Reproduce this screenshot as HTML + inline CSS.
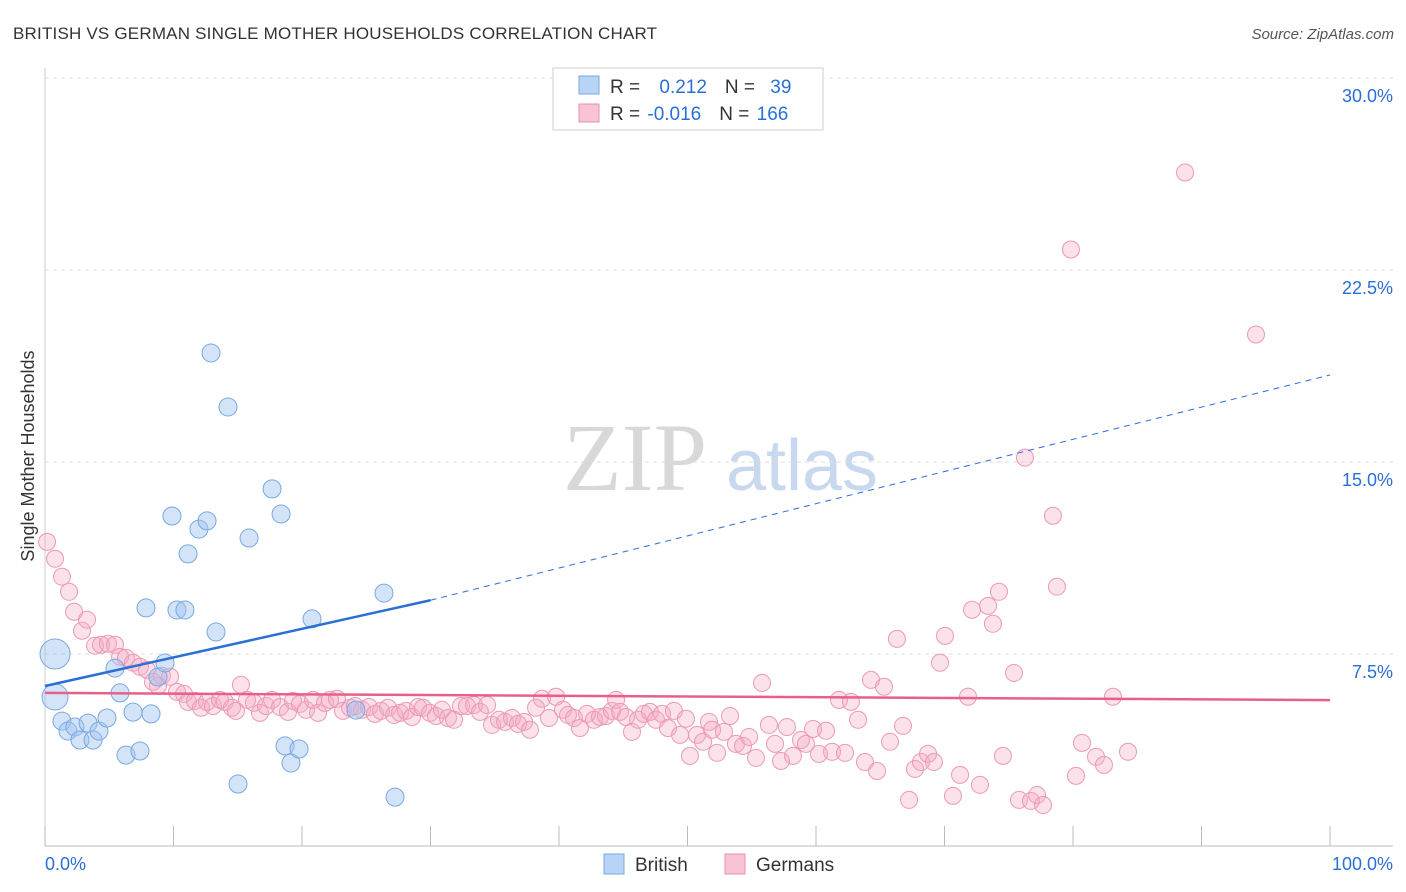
<!DOCTYPE html>
<html><head><meta charset="utf-8"><style>
body{margin:0;background:#fff;font-family:"Liberation Sans",sans-serif;}
svg{display:block}
</style></head><body>
<svg id="chart" width="1406" height="892" xmlns="http://www.w3.org/2000/svg" font-family="Liberation Sans, sans-serif">
<text x="13" y="39" font-size="17" fill="#333" letter-spacing="0.2">BRITISH VS GERMAN SINGLE MOTHER HOUSEHOLDS CORRELATION CHART</text>
<text x="1394" y="39" font-size="15" fill="#555" text-anchor="end" font-style="italic">Source: ZipAtlas.com</text>
<g>
<text x="635" y="490" font-size="96" fill="#d8d8d8" text-anchor="middle" font-family="Liberation Serif, serif">ZIP</text>
<text x="802" y="490" font-size="72" fill="#c8d8ee" text-anchor="middle">atlas</text>
</g>
<g id="grid"></g>
<g id="axes"></g>
<text transform="translate(34,456) rotate(-90)" font-size="18" fill="#333" text-anchor="middle">Single Mother Households</text>
<g id="lines"></g>
<g id="pts"></g>
<g>
<rect x="553" y="68" width="270" height="62" fill="#fff" stroke="#ccc"/>
<rect x="579" y="76" width="20" height="18" fill="#b8d4f4" stroke="#7aa8e0"/>
<rect x="579" y="104" width="20" height="18" fill="#f8c4d4" stroke="#e890aa"/>
<text x="610" y="93" font-size="19" fill="#333">R = <tspan fill="#2a6fd6" dx="14">0.212</tspan><tspan dx="18" fill="#333">N = </tspan><tspan fill="#2a6fd6" dx="10">39</tspan></text>
<text x="610" y="120" font-size="19" fill="#333">R = <tspan fill="#2a6fd6" dx="2">-0.016</tspan><tspan dx="18" fill="#333">N = </tspan><tspan fill="#2a6fd6" dx="2">166</tspan></text>
</g>
<g>
<g><rect x="604" y="854" width="20" height="20" fill="#b8d4f4" stroke="#7aa8e0"/><text x="635" y="871" font-size="19" fill="#333">British</text></g>
<g><rect x="725" y="854" width="20" height="20" fill="#f8c4d4" stroke="#e890aa"/><text x="756" y="871" font-size="19" fill="#333">Germans</text></g>
</g>
</svg>
<script>
const yTicks=[7.5,15.0,22.5,30.0];
const xTickLabels=["0.0%","100.0%"];
const britX=[0.78,0.78,1.32,1.79,2.33,2.72,3.35,3.74,4.2,4.82,5.45,5.84,6.3,6.85,7.39,7.86,8.25,8.79,9.34,9.88,10.27,10.89,11.13,11.98,12.61,12.92,13.31,14.24,15.02,15.88,17.67,18.37,18.68,19.14,19.77,20.78,24.2,26.38,27.24];
const britY=[7.5,5.82,4.88,4.49,4.65,4.14,4.8,4.14,4.49,5.0,6.95,5.98,3.55,5.23,3.71,9.3,5.16,6.6,7.15,12.89,9.22,9.22,11.41,12.38,12.7,19.26,8.36,17.15,2.42,12.03,13.95,12.97,3.91,3.24,3.79,8.87,5.31,9.88,1.91];
const britSize=[15,13,9,9,9,9,9,9,9,9,9,9,9,9,9,9,9,9,9,9,9,9,9,9,9,9,9,9,9,9,9,9,9,9,9,9,9,9,9];
const gerX=[0.16,0.78,1.32,1.87,2.26,2.88,3.27,3.89,4.36,4.9,5.45,5.84,6.3,6.85,7.39,7.94,8.4,8.79,9.1,9.73,10.27,10.82,11.13,11.67,12.14,12.61,13.07,13.62,14.0,14.55,14.86,15.25,15.72,16.26,16.73,17.2,17.67,18.29,18.91,19.3,19.84,20.31,20.86,21.25,21.79,22.18,22.72,23.19,23.74,24.12,24.67,25.21,25.68,26.15,26.69,27.16,27.63,28.09,28.56,29.03,29.42,29.96,30.43,30.89,31.36,31.83,32.37,32.84,33.39,33.85,34.4,34.79,35.33,35.8,36.34,36.81,37.28,37.74,38.21,38.68,39.22,39.77,40.31,40.7,41.17,41.63,42.18,42.72,43.19,43.66,44.12,44.44,44.75,45.21,45.68,46.15,46.61,47.08,47.55,48.02,48.48,48.95,49.42,49.88,50.19,50.74,51.21,51.67,51.91,52.3,52.84,53.31,53.77,54.32,54.79,55.33,55.8,56.34,56.81,57.28,57.74,58.21,58.83,59.22,59.77,60.23,60.78,61.25,61.79,62.26,62.72,63.27,63.81,64.28,64.75,65.29,65.76,66.3,66.77,67.24,67.7,68.17,68.72,69.18,69.65,70.04,70.66,71.21,71.83,72.14,72.76,73.39,73.77,74.24,74.55,75.41,75.8,76.26,76.73,77.2,77.67,78.44,78.75,79.84,80.23,80.7,81.79,82.41,83.11,84.28,88.72,94.24];
const gerY=[11.88,11.22,10.52,9.93,9.15,8.41,8.84,7.82,7.86,7.9,7.86,7.39,7.35,7.16,7.0,6.88,6.41,6.26,6.65,6.61,6.02,5.94,5.63,5.67,5.4,5.63,5.47,5.71,5.63,5.4,5.28,6.3,5.71,5.59,5.2,5.47,5.71,5.43,5.24,5.67,5.55,5.32,5.71,5.2,5.59,5.71,5.75,5.28,5.4,5.47,5.32,5.43,5.16,5.28,5.4,5.12,5.2,5.28,5.04,5.43,5.4,5.2,5.08,5.32,5.0,4.93,5.47,5.47,5.51,5.24,5.51,4.73,4.93,4.85,5.0,4.77,4.85,4.54,5.4,5.75,5.0,5.83,5.32,5.12,5.0,4.61,5.16,4.93,5.04,5.08,5.28,5.71,5.24,5.04,4.46,4.93,5.16,5.24,4.93,5.16,4.61,5.28,4.34,4.97,3.52,4.34,4.07,4.85,4.54,3.64,4.46,5.08,3.99,3.91,4.26,3.44,6.37,4.73,3.99,3.32,4.65,3.52,4.14,3.99,4.57,3.6,4.5,3.68,5.71,3.64,5.63,4.93,3.28,6.49,2.93,6.22,4.07,8.09,4.69,1.8,3.01,3.28,3.6,3.28,7.16,8.21,1.96,2.78,5.83,9.23,2.39,9.38,8.68,9.93,3.52,6.76,1.8,15.17,1.76,1.99,1.6,12.9,10.13,23.3,2.74,4.03,3.48,3.17,5.83,3.68,26.31,19.98];
const britTrend=[0,6.25,30,9.6,100,18.4];
const gerTrend=[0,5.98,100,5.7];
const X0=45,X1=1330,Y0=846,PXY=25.6;
const sx=v=>X0+(X1-X0)*v/100, sy=v=>Y0-v*PXY;
const NS="http://www.w3.org/2000/svg";
function mk(t,a,p){const e=document.createElementNS(NS,t);for(const k in a)e.setAttribute(k,a[k]);p.appendChild(e);return e;}
const grid=document.getElementById('grid'),axes=document.getElementById('axes'),lines=document.getElementById('lines'),pts=document.getElementById('pts');
yTicks.forEach(t=>{
 const l=mk('line',{x1:45,x2:1393,y1:sy(t),y2:sy(t),stroke:'#ddd','stroke-dasharray':'4,4'},grid);
 
 
 const tx=mk('text',{x:1393,y:sy(t)+24,'font-size':18,fill:'#2a6fd6','text-anchor':'end'},axes);
 tx.textContent=t.toFixed(1)+'%';
 
 
});
const ax=mk('line',{x1:45,x2:1393,y1:Y0,y2:Y0,stroke:'#bbb'},axes);


const yl=mk('line',{x1:45,x2:45,y1:68,y2:846,stroke:'#ccc'},axes);


for(let i=0;i<=10;i++){
 const t=mk('line',{x1:sx(i*10),x2:sx(i*10),y1:826,y2:846,stroke:'#bbb'},axes);
 
 
}
const xl0=mk('text',{x:45,y:870,'font-size':18,fill:'#2a6fd6'},axes);xl0.textContent=xTickLabels[0];


const xl1=mk('text',{x:1393,y:870,'font-size':18,fill:'#2a6fd6','text-anchor':'end'},axes);xl1.textContent=xTickLabels[1];


gerX.forEach((x,i)=>{
 const c=mk('circle',{cx:sx(x),cy:sy(gerY[i]),r:8.5,fill:'rgba(244,170,195,0.35)',stroke:'#ec9ab4','stroke-width':1},pts);
 
 
});
britX.forEach((x,i)=>{
 const c=mk('circle',{cx:sx(x),cy:sy(britY[i]),r:britSize[i],fill:'rgba(160,196,240,0.45)',stroke:'#7aa8e0','stroke-width':1},pts);
 
 
});
const bt1=mk('line',{x1:sx(britTrend[0]),y1:sy(britTrend[1]),x2:sx(britTrend[2]),y2:sy(britTrend[3]),stroke:'#2a6fd6','stroke-width':2.5},lines);


const bt2=mk('line',{x1:sx(britTrend[2]),y1:sy(britTrend[3]),x2:sx(britTrend[4]),y2:sy(britTrend[5]),stroke:'#2a6fd6','stroke-width':1,'stroke-dasharray':'6,5'},lines);


const gt=mk('line',{x1:sx(gerTrend[0]),y1:sy(gerTrend[1]),x2:sx(gerTrend[2]),y2:sy(gerTrend[3]),stroke:'#e8608a','stroke-width':2.5},lines);


pts.parentNode.appendChild(lines);
</script>
</body></html>
